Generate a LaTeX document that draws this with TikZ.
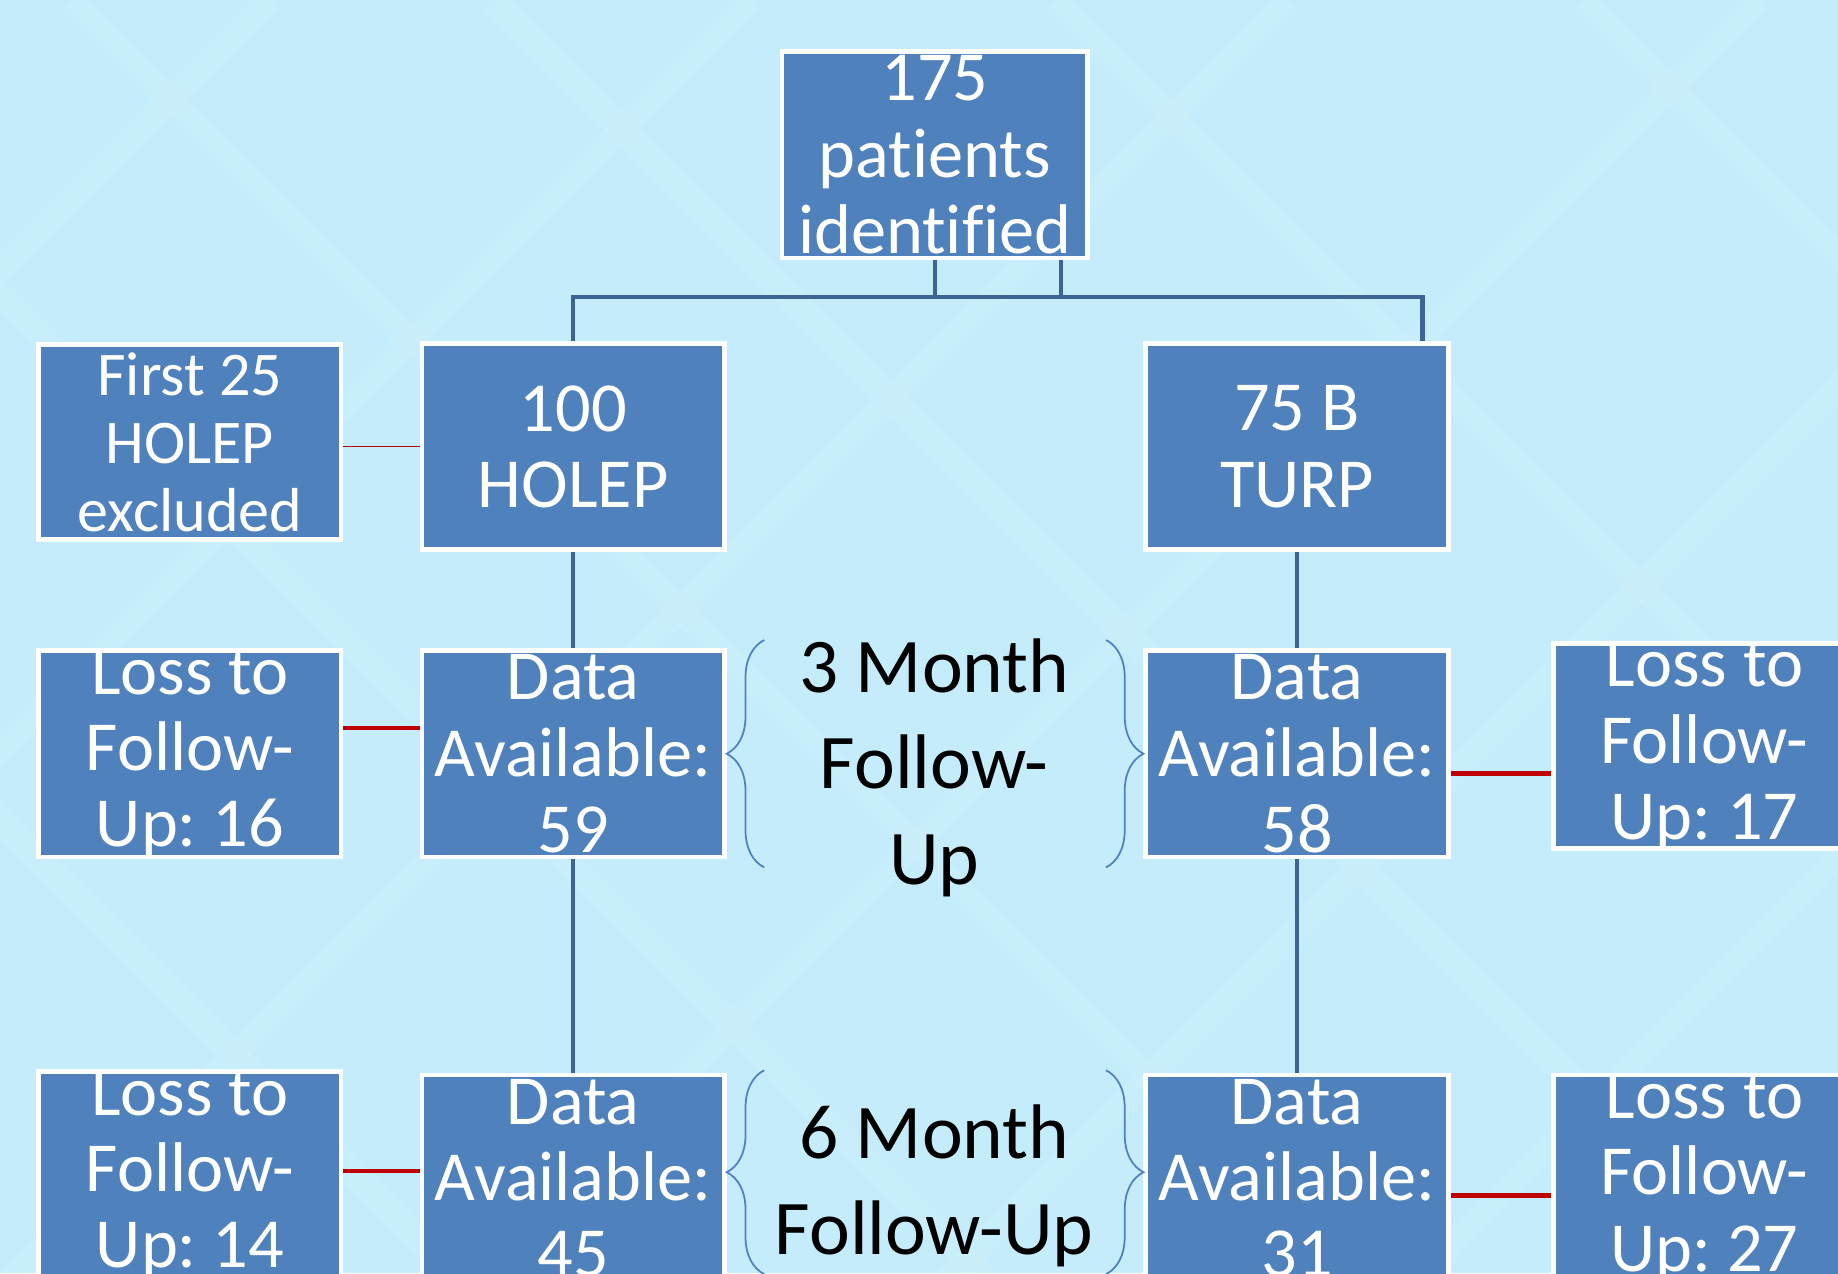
\documentclass[tikz,border=0pt]{standalone}
\usepackage{fontspec}
\setmainfont{Carlito}[Ligatures={NoCommon}]
\usetikzlibrary{positioning,calc,decorations.pathreplacing}
\definecolor{bgblue}{RGB}{196,236,251}
\definecolor{boxblue}{RGB}{79,129,189}
\definecolor{linkblue}{RGB}{62,100,150}
\definecolor{lossred}{RGB}{192,0,0}
\newcommand{\bt}{\fontsize{60}{65}\selectfont}
\newcommand{\st}{\fontsize{53}{58}\selectfont}
\newcommand{\mt}{\fontsize{66}{82}\selectfont}
\frenchspacing

\begin{document}
\begin{tikzpicture}[x=1pt,y=-1pt,
  box/.style={draw=white,line width=4pt,fill=boxblue,minimum width=258pt,minimum height=176pt,inner sep=0pt},
  txt/.style={text=white,align=center,font=\bt,inner sep=0pt},
  link/.style={draw=linkblue,line width=3.5pt},
  loss/.style={draw=lossred,line width=4pt},
  curly/.style={draw=boxblue,line width=1.5pt,decorate,decoration={brace,amplitude=32pt}}]
\useasboundingbox (0,0) rectangle (1568,1086);
\clip (0,0) rectangle (1568,1086);
\fill[bgblue] (0,0) rectangle (1568,1086);
% faint background stripes
\foreach \s in {-700,-250,60,420,900,1350}
  \draw[white,opacity=0.07,line width=22pt] (\s,0) -- ++(1300,1300);
\foreach \s in {230,640,1100,1500,1900,2300}
  \draw[white,opacity=0.07,line width=22pt] (\s,0) -- ++(-1300,1300);
%
\node[box,minimum width=261pt] (top)   at (797.5,132) {};
\node[box]                     (holep) at (489,381)   {};
\node[box]                     (turp)  at (1106.5,381){};
\node[box,minimum height=166pt] (first) at (162,377)  {};
\node[box]                     (d59)   at (489,643)   {};
\node[box,at=(d59-|first)]     (l16)   {};
\node[box,at=(d59-|turp)]      (d58)   {};
\node[box,minimum height=175pt] (l17)  at (1454,636.5){};
\node[box]                     (l14)   at (162,1002)  {};
\node[box]                     (d45)   at (489,1005)  {};
\node[box,at=(d45-|turp)]      (d31)   {};
\node[box,at=(d45-|l17)]       (l27)   {};
%
\node[txt] (topt)   at (top)   {175\\patients\\identified};
\node[txt] (holept) at (holep) {100\\HOLEP};
\node[txt] (turpt)  at (turp)  {75 B\\TURP};
\node[txt,font=\st] (firstt) at (first) {First 25\\HOLEP\\excluded};
\node[txt] (d59t) at (d59) {Data\\Available:\\59};
\node[txt] (l16t) at (l16) {Loss to\\Follow-\\Up: 16};
\node[txt] (d58t) at (d58) {Data\\Available:\\58};
\node[txt] (l17t) at (l17) {Loss to\\Follow-\\Up: 17};
\node[txt] (l14t) at (l14) {Loss to\\Follow-\\Up: 14};
\node[txt] (d45t) at (d45) {Data\\Available:\\45};
\node[txt] (d31t) at (d31) {Data\\Available:\\31};
\node[txt] (l27t) at (l27) {Loss to\\Follow-\\Up: 27};
\node[align=center,font=\mt] (m3) at (797,655)  {3 Month\\Follow-\\Up};
\node[align=center,font=\mt] (m6) at (797,1012) {6 Month\\Follow-Up};
%
\coordinate (bar)  at (0,253);
\coordinate (tpr)  at ([xshift=107.5pt]top.south);
\coordinate (tpin) at ($(turp.north east)+(-24,0)$);
\draw[link] (tpr) -- (tpr |- bar) -| (holep.north);
\draw[link] (top.south) -- (top.south |- bar) -| (tpin);
\draw[link] (holep.south) -- (d59.north);
\draw[link] (d59.south)   -- (d45.north);
\draw[link] (turp.south)  -- (d58.north);
\draw[link] (d58.south)   -- (d31.north);
%
\coordinate (a16) at ($(d59.west)+(0,-22)$);
\coordinate (a17) at ($(d58.east)+(0,17)$);
\coordinate (a14) at ($(d45.west)+(0,-6)$);
\coordinate (a27) at ($(d31.east)+(0,15)$);
\draw[loss,line width=1.5pt] (holep.west) -- (holep.west -| first.east);
\draw[loss] (a16) -- (a16 -| l16.east);
\draw[loss] (a17) -- (a17 -| l17.west);
\draw[loss] (a14) -- (a14 -| l14.east);
\draw[loss] (a27) -- (a27 -| l27.west);
%
\draw[curly] ($(d59.east)+(32,97)$)  -- ($(d59.east)+(32,-97)$);
\draw[curly] ($(d58.west)+(-32,-97)$) -- ($(d58.west)+(-32,97)$);
\draw[curly] ($(d45.east)+(32,82)$)  -- ($(d45.east)+(32,-92)$);
\draw[curly] ($(d31.west)+(-32,-92)$) -- ($(d31.west)+(-32,82)$);
\end{tikzpicture}
\end{document}
